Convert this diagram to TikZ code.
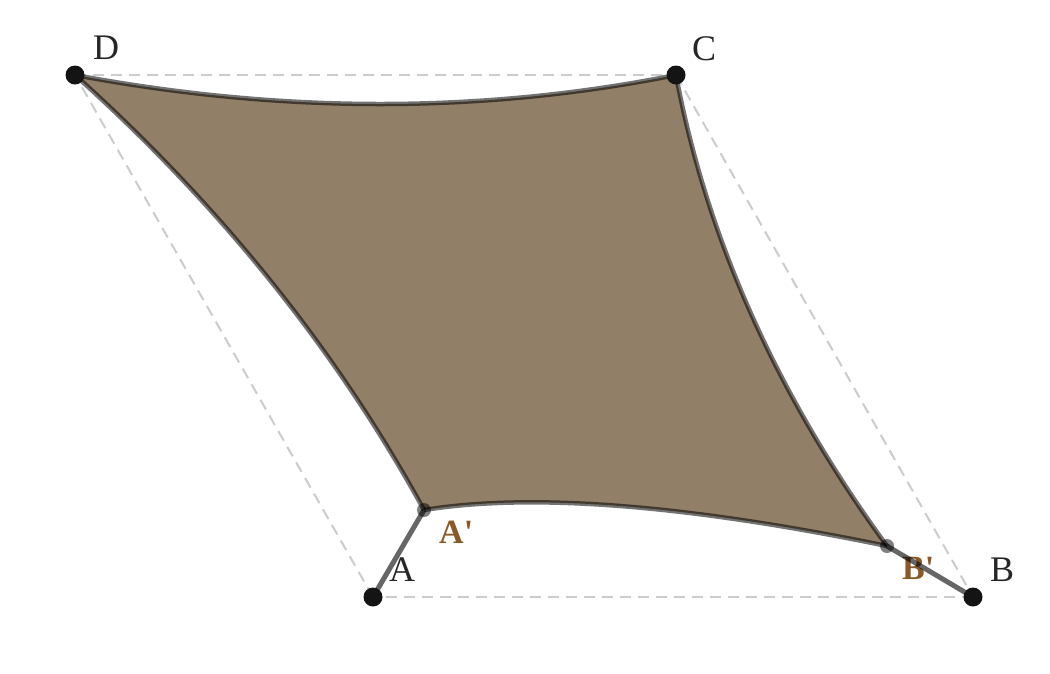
\documentclass[tikz,border=0pt]{standalone}
\usepackage{fontspec}
\setmainfont{Liberation Serif}
\usetikzlibrary{calc}
\definecolor{sailfill}{RGB}{146,127,103}
\definecolor{labelbrown}{RGB}{139,88,40}
\definecolor{dashgray}{RGB}{204,204,204}
\definecolor{ptblack}{RGB}{20,20,20}
\begin{document}
\begin{tikzpicture}[x=1pt,y=-1pt,
  guide/.style={draw=dashgray,line width=2pt,dash pattern=on 11pt off 7pt},
  edge/.style={draw=black,draw opacity=0.55,line width=4.5pt,line join=round},
  handle/.style={draw=black,draw opacity=0.6,line width=5pt},
  bigpt/.style={fill=ptblack},
  smallpt/.style={fill=black,fill opacity=0.5},
  vlabel/.style={anchor=base west,inner sep=0pt,font=\fontsize{36}{40}\selectfont,text=black!85},
  plabel/.style={anchor=base west,inner sep=0pt,font=\fontsize{34}{38}\selectfont\bfseries,text=labelbrown}]
\useasboundingbox (0,0) rectangle (1050,673);
\fill[white] (0,0) rectangle (1050,673);
% corner points
\coordinate (D) at (75,75);
\coordinate (C) at (676,75);
\coordinate (A) at (373,597);
\coordinate (B) at (973,597);
\coordinate (Ap) at (424,510);
\coordinate (Bp) at (887,546);
% quadratic control points of the four edges
\coordinate (Qt) at (385,133);
\coordinate (Qr) at (722,320);
\coordinate (Qb) at (585,484);
\coordinate (Ql) at (293,271);
% dashed parallelogram
\draw[guide] (D) -- (C);
\draw[guide] (C) -- (B);
\draw[guide] (B) -- (A);
\draw[guide] (A) -- (D);
% sail
\path[fill=sailfill]
  (D) .. controls ($(D)!0.6667!(Qt)$) and ($(C)!0.6667!(Qt)$) .. (C)
      .. controls ($(C)!0.6667!(Qr)$) and ($(Bp)!0.6667!(Qr)$) .. (Bp)
      .. controls ($(Bp)!0.6667!(Qb)$) and ($(Ap)!0.6667!(Qb)$) .. (Ap)
      .. controls ($(Ap)!0.6667!(Ql)$) and ($(D)!0.6667!(Ql)$) .. (D) -- cycle;
\draw[edge] (D) .. controls ($(D)!0.6667!(Qt)$) and ($(C)!0.6667!(Qt)$) .. (C);
\draw[edge] (C) .. controls ($(C)!0.6667!(Qr)$) and ($(Bp)!0.6667!(Qr)$) .. (Bp);
\draw[edge] (Bp) .. controls ($(Bp)!0.6667!(Qb)$) and ($(Ap)!0.6667!(Qb)$) .. (Ap);
\draw[edge] (Ap) .. controls ($(Ap)!0.6667!(Ql)$) and ($(D)!0.6667!(Ql)$) .. (D);
% labels
\node[vlabel] (lD) at (93,59) {D};
\node[vlabel] (lC) at (692,60) {C};
\node[vlabel] (lA) at (389,581) {A};
\node[vlabel] (lB) at (990,581) {B};
\node[plabel] (lAp) at (439,543) {A\textquotesingle};
\node[plabel] (lBp) at (902,579) {B\textquotesingle};
% handles
\draw[handle] (A) -- (Ap);
\draw[handle] (B) -- (Bp);
% points
\fill[smallpt] (Ap) circle (7pt);
\fill[smallpt] (Bp) circle (7pt);
\fill[bigpt] (D) circle (9.5pt);
\fill[bigpt] (C) circle (9.5pt);
\fill[bigpt] (A) circle (9.5pt);
\fill[bigpt] (B) circle (9.5pt);
\end{tikzpicture}
\end{document}
